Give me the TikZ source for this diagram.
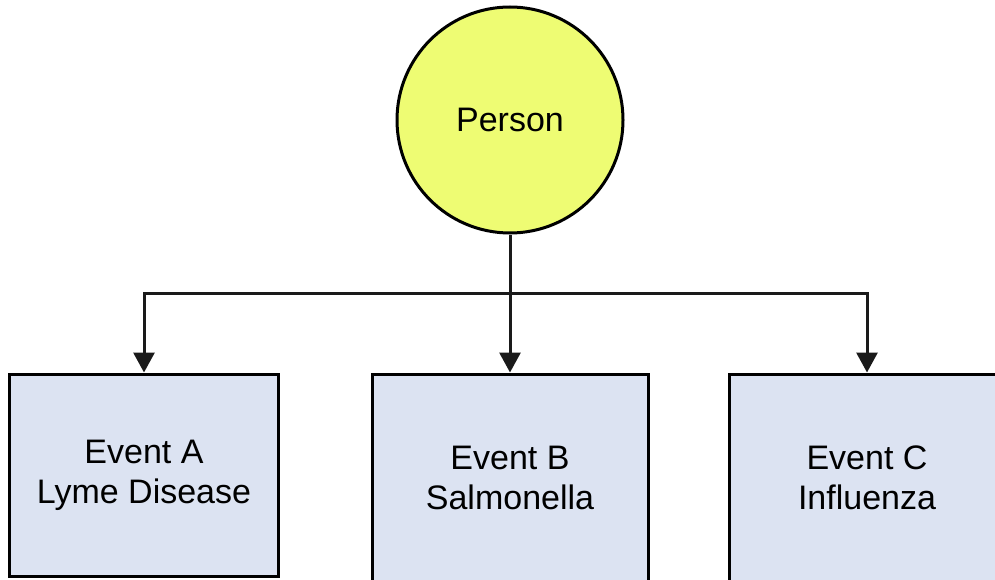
\documentclass[tikz,border=0pt]{standalone}
\usepackage{fontspec}
\setmainfont{Liberation Sans}
\usetikzlibrary{arrows.meta}
\definecolor{personfill}{RGB}{238,252,115}
\definecolor{boxfill}{RGB}{220,227,242}
\definecolor{linecol}{RGB}{26,26,26}
\tikzset{
  lbl/.style={font=\fontsize{34}{40}\selectfont, align=center, text=black},
  personnode/.style={circle, draw=black, fill=personfill, line width=3pt, minimum size=226pt, inner sep=0pt, lbl},
  eventbox/.style={rectangle, draw=black, fill=boxfill, line width=3pt, inner sep=0pt, lbl},
  conn/.style={draw=linecol, line width=3pt, line join=miter},
  arr/.style={conn, -{Triangle[length=20pt,width=21pt]}}
}
\begin{document}
\begin{tikzpicture}[x=1pt,y=-1pt]
\clip (0,0) rectangle (995,580);
\fill[white] (0,0) rectangle (995,580);
\node[personnode] (P) at (510,120) {Person};
\node[eventbox, minimum width=268.5pt, minimum height=202pt] (A) at (144,475) {Event A\\Lyme Disease};
\node[eventbox, minimum width=276pt, minimum height=208pt] (B) at (510,478) {Event B\\Salmonella};
\node[eventbox, minimum width=276pt, minimum height=208pt] (C) at (867,478) {Event C\\Influenza};
\coordinate (J) at (510,293);
\draw[arr] (P.south) -- (B.north);
\draw[arr] (J) -| (A.north);
\draw[arr] (J) -| (C.north);
\end{tikzpicture}
\end{document}
